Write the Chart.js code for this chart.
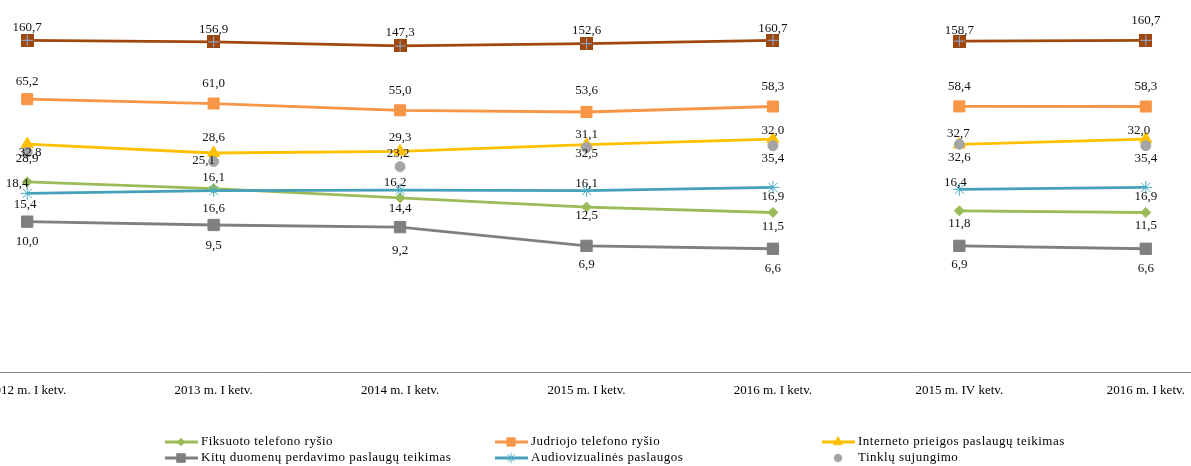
<!DOCTYPE html>
<html>
<head>
<meta charset="utf-8">
<script src="https://cdn.jsdelivr.net/npm/chart.js@4.4.0/dist/chart.umd.min.js"></script>
<style>
    html, body { margin: 0; padding: 0; background: #fff; overflow: hidden; width: 1191px; height: 466px; }
    /* the reference is cropped on both sides, so the canvas runs past the window */
    #wrap { position: absolute; left: -66px; top: 0; width: 1305px; height: 466px; }
</style>
</head>
<body>
<div id="wrap"><canvas id="chart"></canvas></div>
<script>
// Periods on the x axis
const periods = ['2012 m. I ketv.', '2013 m. I ketv.', '2014 m. I ketv.', '2015 m. I ketv.',
    '2016 m. I ketv.', '2015 m. IV ketv.', '2016 m. I ketv.'];

// Values for each series
const totalValues = [160.7, 156.9, 147.3, 152.6, 160.7, 158.7, 160.7];
const mobileValues = [65.2, 61.0, 55.0, 53.6, 58.3, 58.4, 58.3];
const internetValues = [32.8, 28.6, 29.3, 32.5, 35.4, 32.6, 35.4];
const interconnectValues = [28.9, 25.1, 23.2, 31.1, 32.0, 32.7, 32.0];
const fixedValues = [18.4, 16.6, 14.4, 12.5, 11.5, 11.8, 11.5];
const audiovisualValues = [15.4, 16.1, 16.2, 16.1, 16.9, 16.4, 16.9];
const dataTransferValues = [10.0, 9.5, 9.2, 6.9, 6.6, 6.9, 6.6];

const FONT = "'Liberation Serif', 'Times New Roman', serif";
const SHIFT = 66; // canvas starts this far left of the window

// brown square with a light cross, like the Excel marker
function crossSquare(fill, line, size) {
    const c = document.createElement('canvas');
    c.width = size;
    c.height = size;
    const g = c.getContext('2d');
    g.fillStyle = fill;
    g.fillRect(0, 0, size, size);
    g.strokeStyle = line;
    g.lineWidth = 1;
    g.beginPath();
    g.moveTo(size / 2, 1); g.lineTo(size / 2, size - 1);
    g.moveTo(1, size / 2); g.lineTo(size - 1, size / 2);
    g.stroke();
    return c;
}

// no line between "2016 m. I ketv." and "2015 m. IV ketv."
function gapColor(color) {
    return ctx => ctx.p0DataIndex === 4 ? 'rgba(0,0,0,0)' : color;
}

function lineSeries(label, values, color, style, radius, order, dy, dx) {
    return {
        label: label,
        data: values,
        borderColor: color,
        backgroundColor: color,
        borderWidth: 2.8,
        pointStyle: style,
        pointRadius: radius,
        pointBackgroundColor: color,
        pointBorderColor: color,
        pointBorderWidth: 1,
        tension: 0,
        order: order,
        segment: { borderColor: gapColor(color) },
        labelDy: dy,
        labelDx: dx || [0, 0, 0, 0, 0, 0, 0]
    };
}

const datasets = [
    lineSeries('Iš viso', totalValues, '#9E480E', crossSquare('#9E480E', '#8DB3E2', 13), 7, 6,
        [-13, -12, -13, -13, -12, -11, -20]),
    lineSeries('Judriojo telefono ryšio', mobileValues, '#F79646', 'rect', 7.8, 5,
        [-18, -20, -20, -21, -20, -20, -20]),
    lineSeries('Interneto prieigos paslaugų teikimas', internetValues, '#FFC000', 'triangle', 7, 2,
        [9, -15, -14, 9, 19, 13, 19], [3, 0, 0, 0, 0, 0, 0]),
    lineSeries('Fiksuoto telefono ryšio', fixedValues, '#9BBB59', 'rectRot', 5, 4,
        [2, 20, 11, 9, 14, 13, 13], [-10, 0, 0, 0, 0, 0, 0]),
    lineSeries('Audiovizualinės paslaugos', audiovisualValues, '#4BACC6', 'star', 6.5, 3,
        [11, -13, -8, -7, 9, -7, 9], [-2, 0, -5, 0, 0, -4, 0]),
    lineSeries('Kitų duomenų perdavimo paslaugų teikimas', dataTransferValues, '#7F7F7F', 'rect', 8, 5,
        [20, 21, 24, 19, 20, 19, 20]),
    Object.assign(lineSeries('Tinklų sujungimo', interconnectValues, '#A5A5A5', 'circle', 5, 0,
        [6, -1, -13, -13, -15, -11, -15], [0, -10, -2, 0, 0, -1, -7]), { showLine: false })
];
datasets[4].borderColor = '#46A0B9';
datasets[4].segment = { borderColor: gapColor('#46A0B9') };

// value labels with a decimal comma
const valueLabels = {
    id: 'valueLabels',
    afterDatasetsDraw(chart) {
        const ctx = chart.ctx;
        ctx.save();
        ctx.font = '13px ' + FONT;
        ctx.fillStyle = '#111';
        ctx.textAlign = 'center';
        ctx.textBaseline = 'middle';
        chart.data.datasets.forEach((ds, i) => {
            chart.getDatasetMeta(i).data.forEach((pt, j) => {
                const text = ds.data[j].toFixed(1).replace('.', ',');
                ctx.fillText(text, pt.x + ds.labelDx[j], pt.y + ds.labelDy[j]);
            });
        });
        ctx.restore();
    }
};

// legend in three columns, two rows
const legendRows = [
    ['Fiksuoto telefono ryšio', 'Judriojo telefono ryšio', 'Interneto prieigos paslaugų teikimas'],
    ['Kitų duomenų perdavimo paslaugų teikimas', 'Audiovizualinės paslaugos', 'Tinklų sujungimo']
];
const gridLegend = {
    id: 'gridLegend',
    afterDraw(chart) {
        const ctx = chart.ctx;
        const colX = [165, 495, 822];
        const rowY = [442, 458];
        ctx.save();
        ctx.font = '13px ' + FONT;
        ctx.letterSpacing = '0.5px';
        ctx.textBaseline = 'middle';
        ctx.textAlign = 'left';
        legendRows.forEach((row, r) => {
            row.forEach((name, c) => {
                const ds = chart.data.datasets.find(d => d.label === name);
                const x = colX[c] + SHIFT;
                const y = rowY[r];
                const mid = x + 16;
                if (ds.showLine !== false) {
                    ctx.strokeStyle = ds.borderColor;
                    ctx.lineWidth = 3;
                    ctx.beginPath();
                    ctx.moveTo(x, y);
                    ctx.lineTo(x + 33, y);
                    ctx.stroke();
                }
                ctx.fillStyle = ds.pointBackgroundColor;
                ctx.strokeStyle = ds.pointBorderColor;
                ctx.lineWidth = 1;
                Chart.helpers.drawPoint(ctx, {
                    pointStyle: ds.pointStyle,
                    radius: ds.pointRadius * 0.75,
                    rotation: 0,
                    borderWidth: 1
                }, mid, y);
                ctx.fillStyle = '#000';
                ctx.fillText(name, x + 36, y);
            });
        });
        ctx.restore();
    }
};

new Chart(document.getElementById('chart'), {
    type: 'line',
    data: { labels: periods, datasets: datasets },
    options: {
        responsive: true,
        maintainAspectRatio: false,
        animation: false,
        events: [],
        layout: { autoPadding: false, padding: { top: 26, bottom: 0, left: 0, right: 0 } },
        scales: {
            x: {
                offset: true,
                grid: { display: false, drawTicks: false },
                border: { display: true, color: '#868686', width: 1 },
                ticks: {
                    color: '#000',
                    font: { family: FONT, size: 13 },
                    padding: 11,
                    autoSkip: false,
                    maxRotation: 0
                },
                afterFit: scale => { scale.height = 94; }
            },
            y: {
                type: 'logarithmic',
                min: 1,
                max: 200,
                display: false
            }
        },
        plugins: {
            legend: { display: false },
            tooltip: { enabled: false }
        }
    },
    plugins: [valueLabels, gridLegend]
});
</script>
</body>
</html>
